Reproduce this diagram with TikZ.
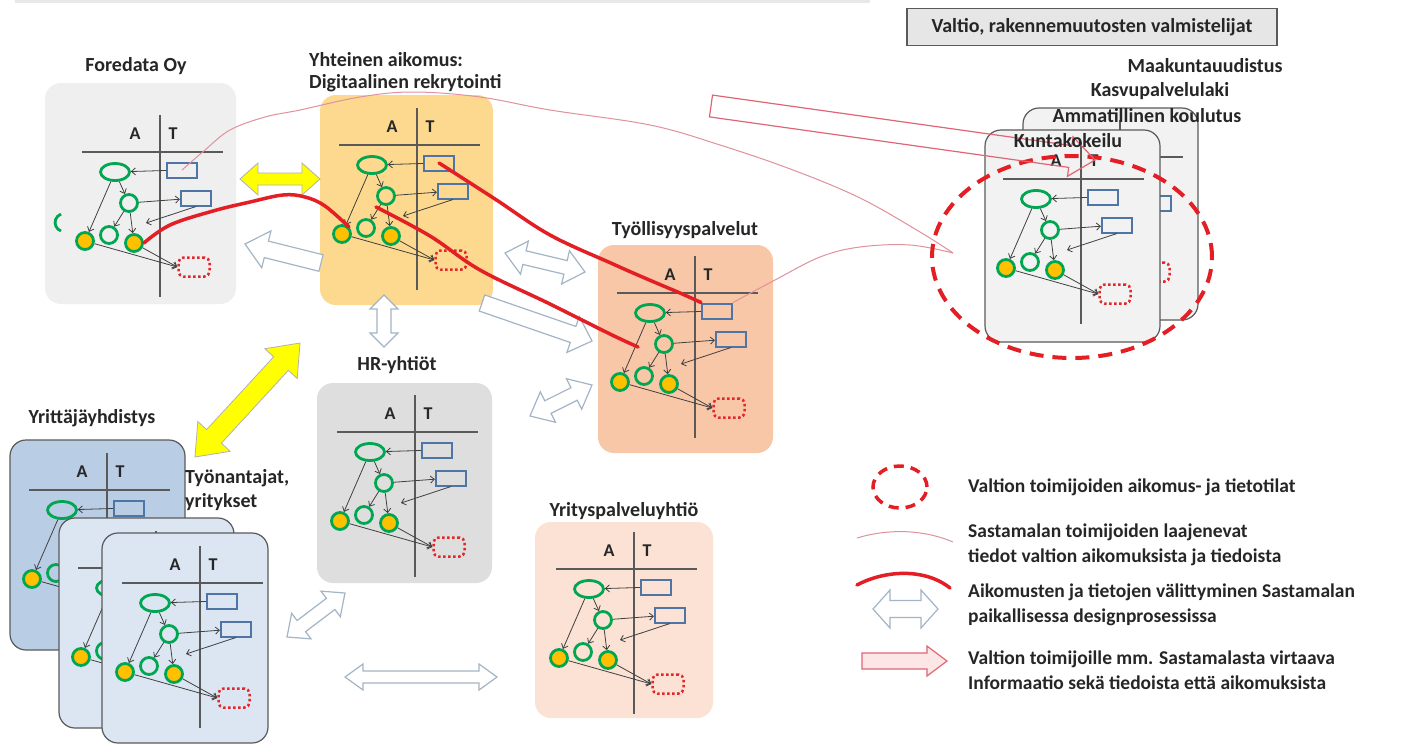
\documentclass[tikz,border=0pt]{standalone}
\usepackage{fontspec}
\setmainfont{Carlito}
\usetikzlibrary{shapes.geometric,arrows.meta,calc}

\definecolor{goalgreen}{HTML}{00A651}
\definecolor{goalfill}{HTML}{FFC000}
\definecolor{infoblue}{HTML}{4F74A6}
\definecolor{gapred}{HTML}{E3262A}
\definecolor{crossgrey}{HTML}{5A5A5A}
\definecolor{linkgrey}{HTML}{404040}
\definecolor{forefill}{HTML}{EFEFEF}
\definecolor{yhtfill}{HTML}{FCD98F}
\definecolor{tyofill}{HTML}{F8C7A7}
\definecolor{hrfill}{HTML}{DEDEDE}
\definecolor{yrifill}{HTML}{FBE2D4}
\definecolor{assocfill}{HTML}{B9CDE5}
\definecolor{firmfill}{HTML}{DCE6F2}
\definecolor{statefill}{HTML}{F2F2F2}
\definecolor{flowred}{HTML}{E31E24}
\definecolor{thinpink}{HTML}{E0919B}
\definecolor{arrowedge}{HTML}{A3B4C6}
\definecolor{arrowyellow}{HTML}{FFFF00}
\definecolor{pinkedge}{HTML}{E06676}
\definecolor{pinkfill}{HTML}{FCE6E6}
\definecolor{titlebox}{HTML}{E6E6E6}
\definecolor{textgrey}{HTML}{262626}

% double-headed block arrow: style, x1, y1, x2, y2, shaft half width, head half width, head length
\newcommand\blockdouble[8]{%
  \pgfmathsetmacro\baang{atan2(-(#5)+(#3),(#4)-(#2))}%
  \pgfmathsetmacro\balen{veclen((#4)-(#2),(#5)-(#3))}%
  \begin{scope}[shift={(#2,#3)},rotate=\baang]
    \draw[#1] (0,0) -- (#8,-#7) -- (#8,-#6) -- (\balen-#8,-#6) -- (\balen-#8,-#7)
      -- (\balen,0) -- (\balen-#8,#7) -- (\balen-#8,#6) -- (#8,#6) -- (#8,#7) -- cycle;
  \end{scope}}
% single-headed block arrow: style, tail x, tail y, tip x, tip y, shaft half width, head half width, head length
\newcommand\blocksingle[8]{%
  \pgfmathsetmacro\baang{atan2(-(#5)+(#3),(#4)-(#2))}%
  \pgfmathsetmacro\balen{veclen((#4)-(#2),(#5)-(#3))}%
  \begin{scope}[shift={(#2,#3)},rotate=\baang]
    \draw[#1] (0,-#6) -- (\balen-#8,-#6) -- (\balen-#8,-#7) -- (\balen,0)
      -- (\balen-#8,#7) -- (\balen-#8,#6) -- (0,#6) -- cycle;
  \end{scope}}

% intention (A) / knowledge (T) model drawn around the crossing of its two axes
\newcommand\modelbody{%
    \draw[crossline] (0,-37) -- (0,145);
    \draw[crossline] (-78,0) -- (63,0);
    \node[goaloval] (-ell) at (-45,20) {};
    \node[goalring] (-c0) at (-31,51) {};
    \node[goaldot] (-c1) at (-75,89) {};
    \node[goalring] (-c2) at (-51,83) {};
    \node[goaldot] (-c3) at (-26,91) {};
    \node[info] (-r1) at (22,18) {};
    \node[info] (-r2) at (36,46) {};
    \node[gap] (-rd) at (34,115) {};
    \coordinate (-tg) at (-14,71);
    \draw[link] (-r1) -- (-ell);
    \draw[link] (-ell) -- (-c0);
    \draw[link] (-ell) -- (-c1);
    \draw[link] (-c0) -- (-r2);
    \draw[link] (-c0) -- (-c2);
    \draw[link] (-c0) -- (-c3);
    \draw[link] (-r2.south) -- (-tg);
    \draw[link] (-c1) -- (-rd.west);
    \draw[link] (-c3) -- (-rd.west);
}

\tikzset{
  crossline/.style={draw=crossgrey, line width=1.3},
  letter/.style={font=\fontsize{18}{18}\selectfont\bfseries, text=textgrey, inner sep=0},
  goal/.style={draw=goalgreen, line width=2.8, inner sep=0},
  goalring/.style={goal, circle, minimum size=17},
  goaldot/.style={goalring, fill=goalfill},
  goaloval/.style={goal, ellipse, minimum width=29, minimum height=17},
  info/.style={draw=infoblue, line width=2, minimum width=30, minimum height=15, inner sep=0},
  gap/.style={draw=gapred, line width=2.5, dash pattern=on 2.5pt off 2.5pt, rounded corners=5,
    minimum width=31, minimum height=19, inner sep=0},
  link/.style={draw=linkgrey, line width=0.8, -{Straight Barb[length=4pt,width=7pt]}},
  plainbox/.style={rounded corners=16},
  framedbox/.style={rounded corners=16, draw=crossgrey, line width=1.2},
  title/.style={font=\fontsize{20}{22}\selectfont\bfseries, text=textgrey, inner sep=0},
  legendtext/.style={font=\fontsize{19.5}{24.5}\selectfont\bfseries, text=textgrey, align=left,
    anchor=west, inner sep=0},
  yelarrow/.style={fill=arrowyellow, draw=gray!60, line width=0.8},
  whitearrow/.style={fill=white, draw=arrowedge, line width=1.2},
  pinkarrow/.style={draw=pinkedge, line width=1.2},
  flowline/.style={draw=flowred, line width=3.5, line cap=round, line join=round},
  pinkline/.style={draw=thinpink, line width=1},
  statering/.style={draw=flowred, line width=4, dash pattern=on 14pt off 9pt, ellipse, inner sep=0},
  pics/module/.style={code={
    \node[letter] (-A) at (-25,-18) {A};
    \node[letter] (-T) at (13,-18) {T};
    \modelbody
  }},
  pics/coveredmodule/.style={code={\modelbody}}
}

\begin{document}
\begin{tikzpicture}[x=1pt,y=-1pt]
\fill[white] (0,0) rectangle (1422,745);
\useasboundingbox (0,0) rectangle (1422,745);
\fill[gray!18] (15,0) rectangle (870,3);

% --- actor boxes with their intention / knowledge models ---
\path[plainbox, fill=forefill] (45,83) rectangle (236,304);
\pic (fore) at (160,152) {module};
\draw[goalgreen, line width=2.8] (61,231) arc[start angle=110, end angle=250, radius=9];

\path[plainbox, fill=yhtfill] (320,95) rectangle (493,305);
\pic (yht) at (417,145) {module};

\path[plainbox, fill=tyofill] (598,245) rectangle (773,453);
\pic (tyo) at (695,293) {module};

\path[plainbox, fill=hrfill] (317,383) rectangle (492,583);
\pic (hr) at (415,432) {module};

\path[plainbox, fill=yrifill] (535,522) rectangle (713,718);
\pic (yri) at (634,569) {module};

\path[framedbox, fill=assocfill] (10,440) rectangle (185,650);
\pic (assoc) at (107,490) {module};
\path[framedbox, fill=firmfill] (59,518) rectangle (234,728);
\pic (firmb) at (156,568) {coveredmodule};
\path[framedbox, fill=firmfill] (102,533) rectangle (268,743);
\pic (firma) at (200,583) {module};

\path[framedbox, fill=statefill] (1023,108) rectangle (1198,320);
\pic (stateb) at (1120,157) {coveredmodule};
\path[framedbox, fill=statefill] (985,130) rectangle (1160,342);
\pic (statea) at (1081,179) {module};

% --- block arrows between actors ---
\blockdouble{yelarrow}{240}{179}{320}{179}{6}{16}{18}
\blockdouble{yelarrow}{195}{457}{300}{343}{10}{22}{28}
\blocksingle{whitearrow}{321}{263}{245}{244}{8.5}{19}{22}
\blockdouble{whitearrow}{384}{295}{384}{347}{7}{14}{14}
\blocksingle{whitearrow}{482}{303}{592}{341}{8.5}{19}{20}
\blockdouble{whitearrow}{505}{253}{585}{272}{7}{17}{20}
\blockdouble{whitearrow}{530}{416}{592}{385}{7}{17}{20}
\blockdouble{whitearrow}{287}{637}{345}{593}{7}{16}{18}
\blockdouble{whitearrow}{345}{677}{497}{677}{6}{13}{18}

% --- transfer of intentions and knowledge ---
\draw[flowline] plot[smooth, tension=0.6] coordinates {(fore-c3.east) (170,225) (213,211) (250,202) (283,195) (305,197) (325,206) (yht-c1.north east)};
\draw[flowline] plot[smooth, tension=0.6] coordinates {(yht-r1.center) (495,199) (550,235) (613,264) (647,279) (680,293) (tyo-r1.north west)};
\coordinate (yhtmid) at (376,207);
\coordinate (tyomid) at (638,347);
\draw[flowline] plot[smooth, tension=0.6] coordinates {(yhtmid) (430,236) (480,270) (550,304) (610,334) (tyomid)};

% --- knowledge of the state's intentions ---
\coordinate (statetip) at (953,253);
\draw[pinkline] plot[smooth, tension=0.6] coordinates {(fore-r1.center) (205,150) (230,130) (265,117) (300,110) (360,97) (413,92) (480,97) (550,110) (650,125) (720,145) (793,170) (860,198) (920,232) (statetip)};
\draw[pinkline] plot[smooth, tension=0.6] coordinates {(tyo-r1.north east) (775,280) (820,257) (860,247) (910,245) (statetip)};

% --- state actors ---
\node[statering, minimum width=280, minimum height=202] (statearea) at (1072,257) {};
\blocksingle{pinkarrow}{711}{106}{1095}{160}{11}{20}{25}

% --- titles ---
\node[title] (foret) at (136,66) {Foredata Oy};
\node[title, align=left, anchor=west, font=\fontsize{20}{22}\selectfont\bfseries] (yhtt) at (309,72) {Yhteinen aikomus:\\Digitaalinen rekrytointi};
\node[title] (tyot) at (685,230) {Työllisyyspalvelut};
\node[title] (hrt) at (397,365) {HR-yhtiöt};
\node[title] (yrit) at (624,511) {Yrityspalveluyhtiö};
\node[title] (assoct) at (92,418) {Yrittäjäyhdistys};
\node[title, align=left, anchor=west, font=\fontsize{20}{24}\selectfont\bfseries] (firmt) at (185,490) {Työnantajat,\\yritykset};
\node[title, fill=titlebox, draw=crossgrey, line width=1.2, minimum width=370, minimum height=37] (valtio) at (1092,27) {Valtio, rakennemuutosten valmistelijat};
\node[title] (maak) at (1205,66) {Maakuntauudistus};
\node[title] (kasvu) at (1160,91) {Kasvupalvelulaki};
\node[title] (ammat) at (1147,116) {Ammatillinen koulutus};
\node[title] (kunta) at (1068,141) {Kuntakokeilu};

% --- legend ---
\node[statering, line width=3.5, dash pattern=on 10pt off 7pt, minimum width=54, minimum height=42] (lg1) at (900,487) {};
\node[legendtext] (lt1) at (968,487) {Valtion toimijoiden aikomus- ja tietotilat};
\coordinate (lg2a) at (857,538);
\coordinate (lg2b) at (953,542);
\draw[pinkline] (lg2a) .. controls (890,528) and (925,530) .. (lg2b);
\node[legendtext] (lt2) at (968,545) {Sastamalan toimijoiden laajenevat\\tiedot valtion aikomuksista ja tiedoista};
\coordinate (lg3a) at (857,585);
\coordinate (lg3b) at (950,588);
\draw[flowline] (lg3a) .. controls (885,570) and (925,568) .. (lg3b);
\blockdouble{whitearrow}{873}{609}{938}{609}{8.5}{19}{17}
\node[legendtext] (lt3) at (968,605) {Aikomusten ja tietojen välittyminen Sastamalan\\paikallisessa designprosessissa};
\blocksingle{pinkarrow, fill=pinkfill}{862}{661}{947}{661}{8}{15}{20}
\node[legendtext] (lt4) at (968,670) {Valtion toimijoille mm. Sastamalasta virtaava\\Informaatio sekä tiedoista että aikomuksista};
\end{tikzpicture}
\end{document}
